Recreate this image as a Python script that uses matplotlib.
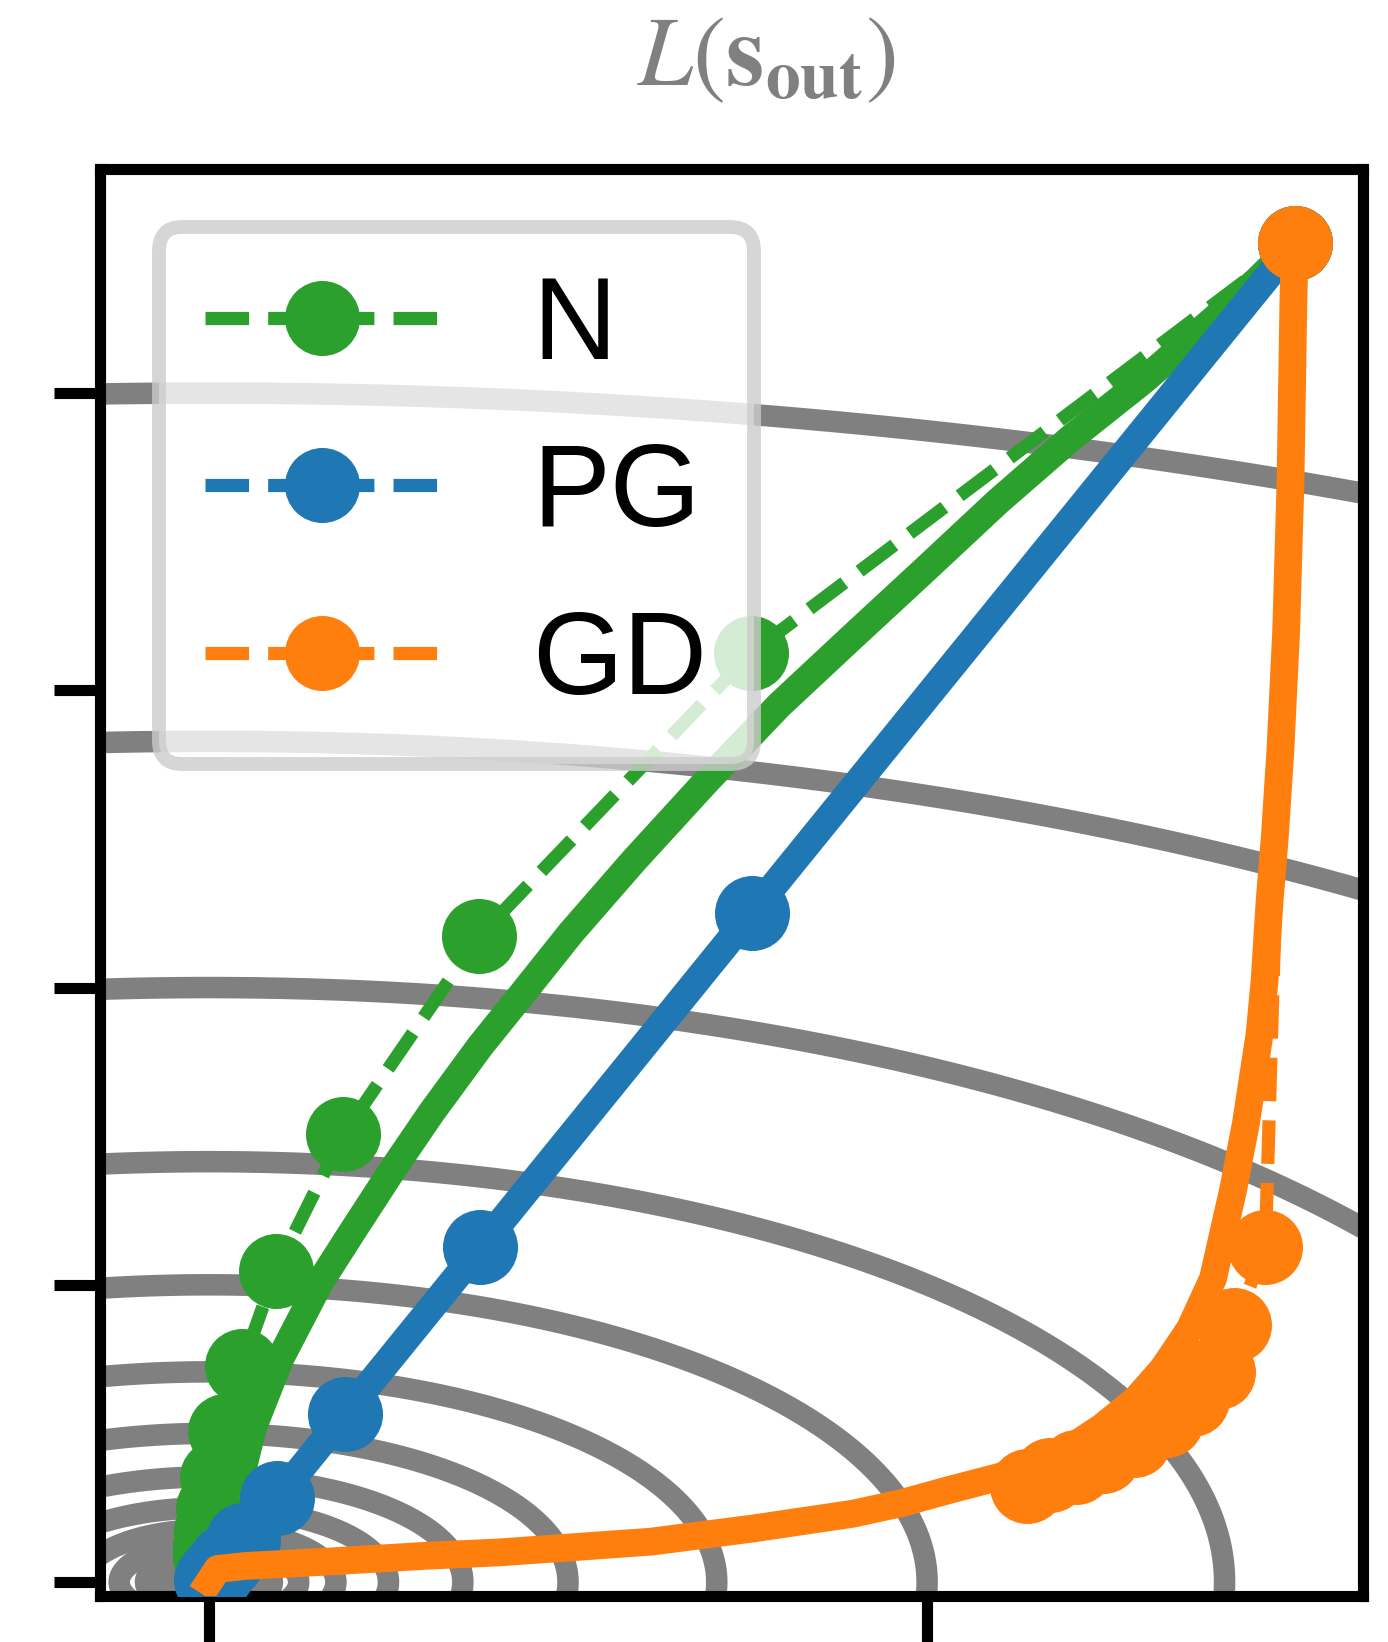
import numpy as np
import matplotlib
matplotlib.use("Agg")
import matplotlib.pyplot as plt

plt.rcParams['font.family'] = ['Liberation Sans', 'DejaVu Sans']
plt.rcParams['mathtext.fontset'] = 'stix'

# loss surface L = v^2 + w * u^2, drawn on log-spaced levels
w_u = 0.25
levels = 2.0 ** np.arange(-10, 3)

# N: discrete iterates and continuous flow
n_u = [1.512, 0.755, 0.376, 0.187, 0.093, 0.046, 0.022, 0.011, 0.006, 0.003, 0.0015, 0.0008]
n_v = [2.252, 1.563, 1.086, 0.753, 0.524, 0.364, 0.254, 0.177, 0.124, 0.086, 0.060, 0.042]
n_flow_u = [1.512, 1.460, 1.403, 1.302, 1.200, 1.099, 0.998, 0.896, 0.794, 0.692, 0.592,
            0.504, 0.440, 0.378, 0.310, 0.257, 0.200, 0.154, 0.099, 0.061, 0.038, 0.015, 0.0]
n_flow_v = [2.252, 2.190, 2.128, 2.022, 1.924, 1.818, 1.704, 1.590, 1.475, 1.346, 1.214,
            1.092, 0.995, 0.902, 0.790, 0.696, 0.590, 0.503, 0.375, 0.259, 0.145, 0.060, 0.0]

# PG
pg_u = [1.512, 0.756, 0.378, 0.189, 0.095, 0.047, 0.024, 0.012, 0.006, 0.003]
pg_v = [2.252, 1.126, 0.563, 0.282, 0.141, 0.070, 0.035, 0.018, 0.009, 0.004]
pg_flow_u = [1.512, 0.0]
pg_flow_v = [2.252, 0.0]

# GD
gd_u = [1.512, 1.471, 1.428, 1.405, 1.369, 1.332, 1.288, 1.245, 1.208, 1.171, 1.139]
gd_v = [2.252, 0.563, 0.432, 0.353, 0.308, 0.272, 0.239, 0.212, 0.193, 0.180, 0.161]
gd_flow_u = [1.512, 1.510, 1.506, 1.500, 1.492, 1.484, 1.477, 1.470, 1.463, 1.444, 1.426,
             1.398, 1.366, 1.328, 1.290, 1.244, 1.198, 1.150, 1.104, 1.034, 0.965, 0.897,
             0.757, 0.616, 0.500, 0.406, 0.300, 0.173, 0.050, 0.012, 0.0]
gd_flow_v = [2.252, 2.150, 1.850, 1.600, 1.400, 1.250, 1.147, 1.013, 0.922, 0.772, 0.659,
             0.510, 0.426, 0.358, 0.306, 0.261, 0.224, 0.202, 0.178, 0.156, 0.133, 0.115,
             0.090, 0.068, 0.058, 0.050, 0.044, 0.035, 0.027, 0.022, 0.0]

fig = plt.figure(figsize=(13.88, 16.42), dpi=100)
ax = fig.add_axes([0.0724, 0.0280, 0.9096, 0.8691])

uu, vv = np.meshgrid(np.linspace(-0.3, 1.8, 700), np.linspace(-0.1, 2.6, 900))
L = vv ** 2 + w_u * uu ** 2
ax.contour(uu, vv, L, levels=levels, colors='gray', linewidths=15.5, zorder=1)

ms = 53
lw_step = 9.5
lw_flow = 20
runs = [
    ('N', '#2ca02c', n_u, n_v, n_flow_u, n_flow_v),
    ('PG', '#1f77b4', pg_u, pg_v, pg_flow_u, pg_flow_v),
    ('GD', '#ff7f0e', gd_u, gd_v, gd_flow_u, gd_flow_v),
]
for name, c, su, sv, fu, fv in runs:
    ax.plot(su, sv, '--o', color=c, lw=lw_step, ms=ms, label=name, zorder=3,
            dashes=(3.3, 1.45))
    ax.plot(fu, fv, '-', color=c, lw=lw_flow, zorder=3, solid_joinstyle='round')

ax.set_xlim(-0.151, 1.607)
ax.set_ylim(-0.0235, 2.377)
ax.set_xticks([0, 1])
ax.set_yticks([0, 0.5, 1.0, 1.5, 2.0])
ax.set_xticklabels([])
ax.set_yticklabels([])
ax.tick_params(length=33, width=8, direction='out', color='black')
for s in ax.spines.values():
    s.set_linewidth(8)
    s.set_color('black')

leg = ax.legend(loc='upper left', fontsize=84)
leg.get_frame().set_linewidth(10)

fig.text(766 / 1388, 1 - 85 / 1642, r'$L(\mathbf{s}_\mathbf{out})$', color='gray',
         fontsize=71, ha='center', va='baseline')

fig.savefig('out.png', dpi=100)
